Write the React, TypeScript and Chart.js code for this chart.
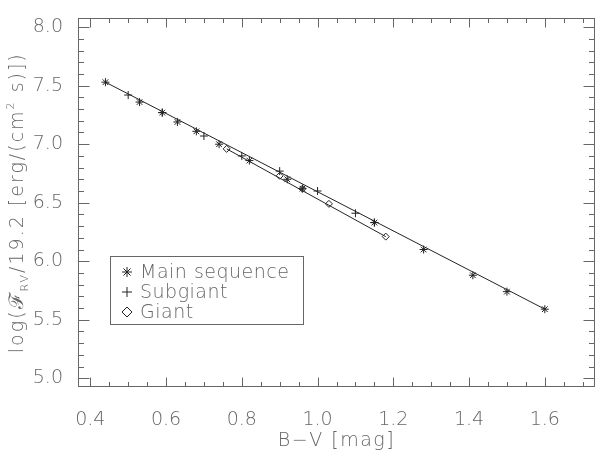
import React, { useEffect, useRef } from 'react';
import { Chart, registerables } from 'chart.js';

Chart.register(...registerables);

// ---- data ----
const mainBV = [0.44, 0.53, 0.59, 0.63, 0.68, 0.74, 0.82, 0.92, 0.96, 1.15, 1.28, 1.41, 1.50, 1.60];
const mainF = [7.53, 7.36, 7.27, 7.19, 7.11, 7.00, 6.86, 6.70, 6.62, 6.33, 6.10, 5.88, 5.74, 5.59];

const subBV = [0.50, 0.59, 0.70, 0.80, 0.90, 1.00, 1.10, 1.15];
const subF = [7.42, 7.27, 7.07, 6.90, 6.77, 6.60, 6.41, 6.33];

const giantBV = [0.76, 0.90, 0.96, 1.03, 1.18];
const giantF = [6.96, 6.73, 6.62, 6.49, 6.21];

// fitted relations drawn as straight lines
const mainFitBV = [0.44, 1.60];
const mainFitF = [7.53, 5.59];
const giantFitBV = [0.76, 1.18];
const giantFitF = [6.96, 6.21];

const xTickLabels = ['0.4', '0.6', '0.8', '1.0', '1.2', '1.4', '1.6'];
const yTickLabels = ['5.0', '5.5', '6.0', '6.5', '7.0', '7.5', '8.0'];
const legendLabels = ['Main sequence', 'Subgiant', 'Giant'];

const X_MIN = 0.3675;
const X_MAX = 1.7325;
const Y_MIN = 4.925;
const Y_MAX = 8.075;

const FONT = '"DejaVu Sans", "Liberation Sans", sans-serif';
const WEIGHT = '200';
const TEXT_COLOR = '#666666';
const LINE_COLOR = '#222222';
const AXIS_COLOR = '#666666';

const toPts = (xs: number[], ys: number[]) => xs.map((x, i) => ({ x, y: ys[i] }));

function drawSymbol(ctx: CanvasRenderingContext2D, kind: string, cx: number, cy: number, r: number) {
  ctx.beginPath();
  if (kind === 'star') {
    for (let k = 0; k < 4; k++) {
      const a = (k * Math.PI) / 4;
      ctx.moveTo(cx - r * Math.cos(a), cy - r * Math.sin(a));
      ctx.lineTo(cx + r * Math.cos(a), cy + r * Math.sin(a));
    }
  } else if (kind === 'cross') {
    ctx.moveTo(cx - r, cy);
    ctx.lineTo(cx + r, cy);
    ctx.moveTo(cx, cy - r);
    ctx.lineTo(cx, cy + r);
  } else {
    ctx.moveTo(cx, cy - r);
    ctx.lineTo(cx + r, cy);
    ctx.lineTo(cx, cy + r);
    ctx.lineTo(cx - r, cy);
    ctx.closePath();
  }
  ctx.stroke();
}

const decorPlugin = {
  id: 'idlDecor',
  afterDraw(chart: any) {
    const { ctx, chartArea: a, scales } = chart;
    const xs = scales.x;
    const ys = scales.y;
    ctx.save();
    ctx.strokeStyle = AXIS_COLOR;
    ctx.lineWidth = 1;
    const L = Math.round(a.left) + 0.5;
    const R = Math.round(a.right) - 0.5;
    const T = Math.round(a.top) + 0.5;
    const B = Math.round(a.bottom) - 0.5;
    ctx.strokeRect(L, T, R - L, B - T);

    ctx.beginPath();
    // x ticks every 0.05, major every 0.2
    for (let k = 8; k <= 34; k++) {
      const v = k * 0.05;
      const major = k % 4 === 0;
      const len = major ? 9 : 4.5;
      const p = Math.round(xs.getPixelForValue(v)) + 0.5;
      ctx.moveTo(p, B);
      ctx.lineTo(p, B - len);
      ctx.moveTo(p, T);
      ctx.lineTo(p, T + len);
    }
    // y ticks every 0.1, major every 0.5
    for (let k = 50; k <= 80; k++) {
      const v = k * 0.1;
      const major = k % 5 === 0;
      const len = major ? 11 : 5.5;
      const p = Math.round(ys.getPixelForValue(v)) + 0.5;
      ctx.moveTo(L, p);
      ctx.lineTo(L + len, p);
      ctx.moveTo(R, p);
      ctx.lineTo(R - len, p);
    }
    ctx.stroke();

    // x title
    ctx.fillStyle = TEXT_COLOR;
    ctx.font = `${WEIGHT} 19px ${FONT}`;
    (ctx as any).letterSpacing = '1.5px';
    ctx.textAlign = 'center';
    ctx.textBaseline = 'alphabetic';
    ctx.fillText('B\u2212V [mag]', (a.left + a.right) / 2, 446);

    // y title (rotated, with subscript and superscript)
    const pieces: { t: string; size: number; dy: number }[] = [
      { t: 'log(', size: 19, dy: 0 },
      { t: '\u2131', size: 20, dy: 0 },
      { t: 'RV', size: 11, dy: 5 },
      { t: '/19.2 [erg/(cm', size: 19, dy: 0 },
      { t: '2', size: 11, dy: -9 },
      { t: ' s)])', size: 19, dy: 0 },
    ];
    (ctx as any).letterSpacing = '2px';
    let total = 0;
    const widths = pieces.map((p) => {
      ctx.font = `${WEIGHT} ${p.size}px ${FONT}`;
      const w = ctx.measureText(p.t).width;
      total += w;
      return w;
    });
    ctx.translate(23, (a.top + a.bottom) / 2);
    ctx.rotate(-Math.PI / 2);
    ctx.textAlign = 'left';
    let cx = -total / 2;
    pieces.forEach((p, i) => {
      ctx.font = `${WEIGHT} ${p.size}px ${FONT}`;
      ctx.fillText(p.t, cx, p.dy);
      cx += widths[i];
    });
    ctx.setTransform(1, 0, 0, 1, 0, 0);
    (ctx as any).letterSpacing = '0px';

    // legend box
    ctx.strokeStyle = AXIS_COLOR;
    ctx.strokeRect(110.5, 256.5, 193, 68);
    const rows = [272, 292, 312];
    const kinds = ['star', 'cross', 'diamond'];
    const sizes = [5, 5, 5];
    ctx.font = `${WEIGHT} 19px ${FONT}`;
    (ctx as any).letterSpacing = '0.5px';
    ctx.textAlign = 'left';
    ctx.textBaseline = 'middle';
    legendLabels.forEach((lab, i) => {
      ctx.strokeStyle = LINE_COLOR;
      drawSymbol(ctx, kinds[i], 127, rows[i], sizes[i]);
      ctx.fillStyle = TEXT_COLOR;
      ctx.fillText(lab, 140, rows[i] + 1);
    });
    ctx.restore();
  },
};

export default function App() {
  const ref = useRef<HTMLCanvasElement | null>(null);

  useEffect(() => {
    document.body.style.margin = '0';
    document.body.style.background = '#ffffff';
    const canvas = ref.current;
    if (!canvas) return;
    const pointCommon = {
      showLine: false,
      borderColor: LINE_COLOR,
      backgroundColor: 'rgba(0,0,0,0)',
      pointBorderColor: LINE_COLOR,
      pointBackgroundColor: 'rgba(0,0,0,0)',
      pointBorderWidth: 1,
    };
    const chart = new Chart(canvas, {
      type: 'scatter',
      data: {
        datasets: [
          {
            label: 'mainFit',
            data: toPts(mainFitBV, mainFitF),
            showLine: true,
            borderColor: LINE_COLOR,
            borderWidth: 1,
            pointRadius: 0,
          },
          {
            label: 'giantFit',
            data: toPts(giantFitBV, giantFitF),
            showLine: true,
            borderColor: LINE_COLOR,
            borderWidth: 1,
            pointRadius: 0,
          },
          { ...pointCommon, label: legendLabels[0], data: toPts(mainBV, mainF), pointStyle: 'star', pointRadius: 4 },
          { ...pointCommon, label: legendLabels[1], data: toPts(subBV, subF), pointStyle: 'cross', pointRadius: 4 },
          { ...pointCommon, label: legendLabels[2], data: toPts(giantBV, giantF), pointStyle: 'rectRot', pointRadius: 3.5 },
        ] as any,
      },
      options: {
        responsive: false,
        animation: false,
        devicePixelRatio: 1,
        layout: { padding: { left: 0, right: 4, top: 5, bottom: 0 } },
        plugins: { legend: { display: false }, tooltip: { enabled: false } },
        scales: {
          x: {
            type: 'linear',
            min: X_MIN,
            max: X_MAX,
            grid: { display: false },
            border: { display: false },
            afterBuildTicks: (s: any) => {
              s.ticks = xTickLabels.map((t) => ({ value: Number(t) }));
            },
            afterFit: (s: any) => {
              s.height = 65;
            },
            ticks: {
              padding: 14,
              color: TEXT_COLOR,
              font: { family: FONT, size: 19, weight: WEIGHT },
              maxRotation: 0,
              autoSkip: false,
              callback: (v: any) => Number(v).toFixed(1),
            },
          },
          y: {
            type: 'linear',
            min: Y_MIN,
            max: Y_MAX,
            grid: { display: false },
            border: { display: false },
            afterBuildTicks: (s: any) => {
              s.ticks = yTickLabels.map((t) => ({ value: Number(t) }));
            },
            afterFit: (s: any) => {
              s.width = 78;
            },
            ticks: {
              padding: 7,
              color: TEXT_COLOR,
              font: { family: FONT, size: 19, weight: WEIGHT },
              autoSkip: false,
              callback: (v: any) => Number(v).toFixed(1),
            },
          },
        },
      } as any,
      plugins: [decorPlugin],
    });
    return () => chart.destroy();
  }, []);

  return (
    <div style={{ width: 600, height: 452, overflow: 'hidden' }}>
      <canvas ref={ref} width={600} height={452} style={{ display: 'block', width: 600, height: 452 }} />
    </div>
  );
}
